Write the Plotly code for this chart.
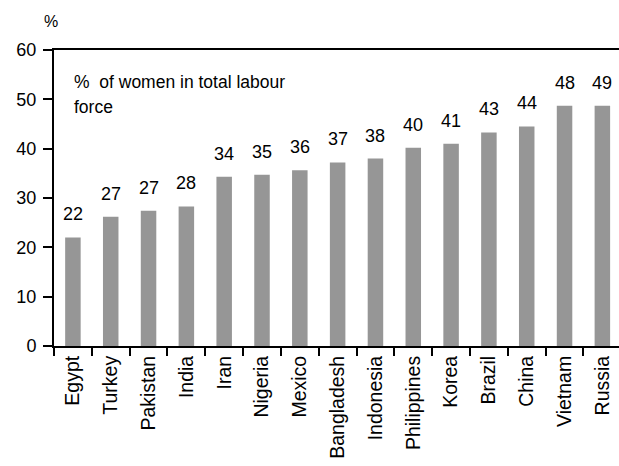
import plotly.graph_objects as go

countries = ["Egypt", "Turkey", "Pakistan", "India", "Iran", "Nigeria", "Mexico",
             "Bangladesh", "Indonesia", "Philippines", "Korea", "Brazil", "China",
             "Vietnam", "Russia"]
values = [22.0, 26.2, 27.4, 28.3, 34.3, 34.7, 35.6, 37.2, 38.0, 40.2, 41.0, 43.3, 44.5, 48.7, 48.7]
labels = ["22", "27", "27", "28", "34", "35", "36", "37", "38", "40", "41", "43", "44", "48", "49"]
yticks = [0, 10, 20, 30, 40, 50, 60]

FONT = "Liberation Sans, Arial, sans-serif"

fig = go.Figure()
fig.add_trace(go.Bar(x=countries, y=values, width=0.41,
                     marker=dict(color="#969696", line=dict(width=0)),
                     hoverinfo="skip"))

annotations = []
for c, v, t in zip(countries, values, labels):
    annotations.append(dict(x=c, y=v, text=t, showarrow=False, yanchor="bottom",
                            xanchor="center", yshift=11,
                            font=dict(family=FONT, size=18, color="black")))
annotations.append(dict(xref="paper", yref="paper", x=-0.005, y=1.0, yshift=18,
                        text="%", showarrow=False, xanchor="center", yanchor="bottom",
                        font=dict(family="Liberation Sans Narrow, " + FONT, size=16, color="black")))
annotations.append(dict(xref="paper", yref="y", x=0.032, y=53.5, text="%  of women in total labour",
                        showarrow=False, xanchor="left", yanchor="middle",
                        font=dict(family=FONT, size=17.5, color="black")))
annotations.append(dict(xref="paper", yref="y", x=0.032, y=48.5, text="force",
                        showarrow=False, xanchor="left", yanchor="middle",
                        font=dict(family=FONT, size=17.5, color="black")))

fig.update_layout(
    width=619, height=466,
    margin=dict(l=54, r=0, t=50, b=120),
    paper_bgcolor="white", plot_bgcolor="white",
    showlegend=False,
    annotations=annotations,
    font=dict(family=FONT, size=18, color="black"),
)
fig.update_xaxes(type="category", range=[-0.5, 14.44], showline=True, linecolor="black",
                 linewidth=2, mirror=True, ticks="outside", tickson="boundaries",
                 ticklen=8, tickwidth=1.5, tickcolor="black", tickangle=-90,
                 showgrid=False, automargin=False,
                 tickfont=dict(family=FONT, size=19.5, color="black"))
fig.update_yaxes(range=[0, 60], tickvals=yticks, showline=True, linecolor="black",
                 linewidth=2, ticks="outside", ticklen=9, tickwidth=1.5, tickcolor="black",
                 showgrid=False, zeroline=False, ticklabelstandoff=3, automargin=False,
                 tickfont=dict(family=FONT, size=18, color="black"))

fig.write_html("out.html", config={"displayModeBar": False},
               post_script="document.body.style.margin='0';document.body.style.overflow='hidden';")
